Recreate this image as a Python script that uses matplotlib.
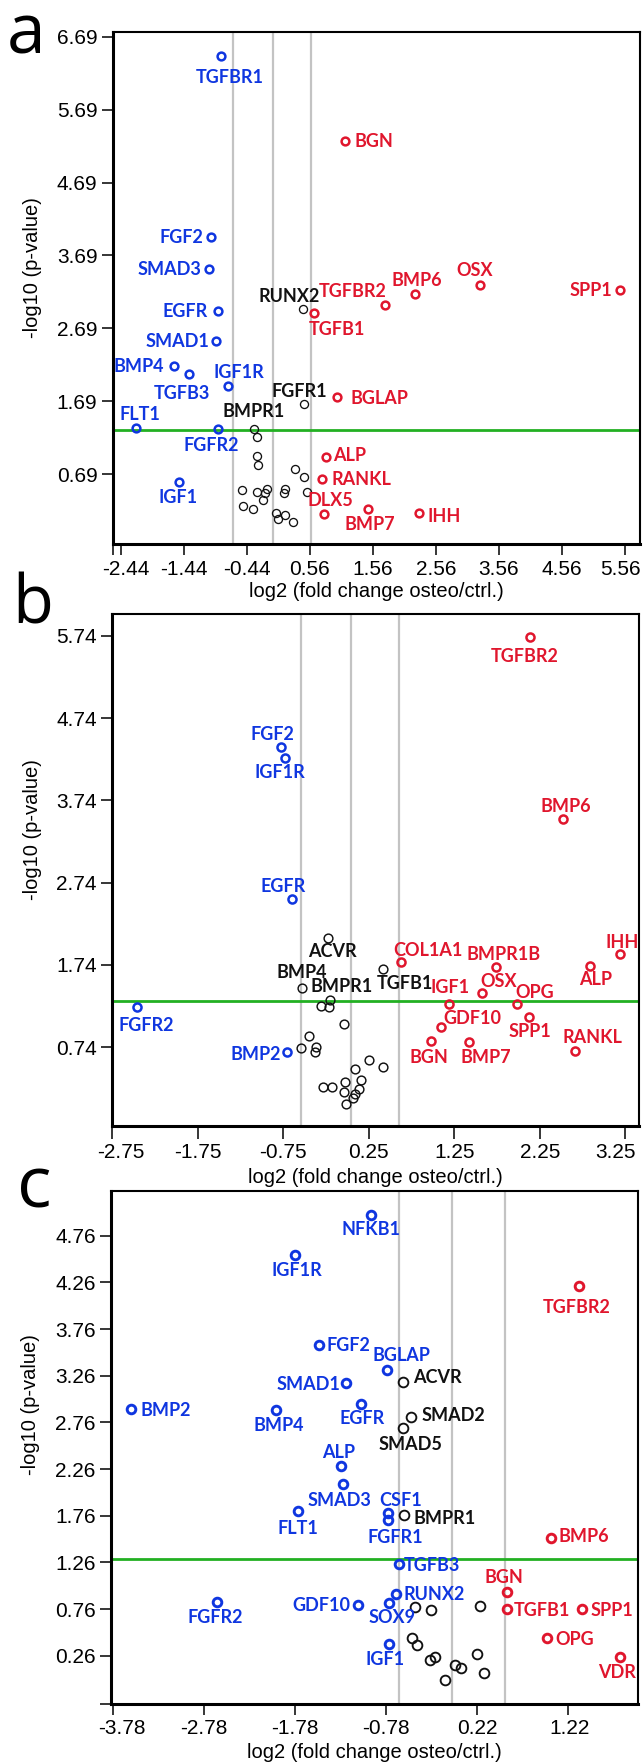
import matplotlib
matplotlib.use("Agg")
import matplotlib.pyplot as plt
from matplotlib.transforms import ScaledTranslation

plt.rcParams['font.family'] = ['Liberation Sans', 'DejaVu Sans']

# ---------------- DATA ----------------
# Panel a
A_GENES = ["TGFBR1", "BGN", "FGF2", "SMAD3", "OSX", "SPP1", "BMP6", "TGFBR2", "RUNX2", "TGFB1",
           "EGFR", "SMAD1", "BMP4", "TGFB3", "IGF1R", "FGFR1", "BGLAP", "FLT1", "FGFR2", "BMPR1",
           "ALP", "RANKL", "IGF1", "DLX5", "BMP7", "IHH"]
A_X = [-0.844, 1.113, -1.005, -1.036, 3.252, 5.473, 2.224, 1.746, 0.456, 0.632,
       -0.896, -0.922, -1.600, -1.352, -0.739, 0.470, 0.984, -2.195, -0.890, -0.328,
       0.821, 0.756, -1.509, 0.782, 1.487, 2.290]
A_Y = [6.43, 5.26, 3.95, 3.51, 3.28, 3.22, 3.16, 3.01, 2.96, 2.90,
       2.93, 2.52, 2.18, 2.06, 1.90, 1.65, 1.75, 1.33, 1.31, 1.31,
       0.93, 0.62, 0.59, 0.14, 0.21, 0.166]
A_GROUP = ["down", "up", "down", "down", "up", "up", "up", "up", "ns", "up",
           "down", "down", "down", "down", "down", "ns", "up", "down", "down", "ns",
           "up", "up", "down", "up", "up", "up"]
A_NS_X = [-0.282, -0.282, -0.256, 0.319, 0.462, -0.517, -0.276, -0.112, -0.145, 0.168,
          0.148, 0.521, -0.177, -0.504, -0.340, 0.018, 0.162, 0.051, 0.293]
A_NS_Y = [1.195, 0.94, 0.815, 0.756, 0.646, 0.47, 0.45, 0.495, 0.43, 0.495,
          0.44, 0.45, 0.335, 0.25, 0.215, 0.166, 0.13, 0.08, 0.033]
A_VLINES = [-0.652, -0.029, 0.584]
A_XTICKS = [-2.44, -1.44, -0.44, 0.56, 1.56, 2.56, 3.56, 4.56, 5.56]
A_XTICKLABELS = ["-2.44", "-1.44", "-0.44", "0.56", "1.56", "2.56", "3.56", "4.56", "5.56"]
A_YTICKS = [0.69, 1.69, 2.69, 3.69, 4.69, 5.69, 6.69]
A_YTICKLABELS = ["0.69", "1.69", "2.69", "3.69", "4.69", "5.69", "6.69"]

# Panel b
B_GENES = ["TGFBR2", "FGF2", "IGF1R", "BMP6", "EGFR", "ACVR", "COL1A1", "TGFB1", "BMPR1B", "ALP",
           "IHH", "BMP4", "OSX", "BMPR1", "FGFR2", "IGF1", "OPG", "SPP1", "GDF10", "BGN",
           "BMP7", "RANKL", "BMP2"]
B_X = [2.133, -0.774, -0.725, 2.518, -0.644, -0.221, 0.630, 0.418, 1.739, 2.833,
       3.188, -0.534, 1.577, -0.197, -2.457, 1.192, 1.985, 2.130, 1.092, 0.980,
       1.428, 2.659, -0.705]
B_Y = [5.72, 4.39, 4.26, 3.51, 2.54, 2.07, 1.78, 1.69, 1.72, 1.73,
       1.87, 1.457, 1.40, 1.315, 1.226, 1.27, 1.27, 1.11, 0.987, 0.817,
       0.80, 0.70, 0.68]
B_GROUP = ["up", "down", "down", "up", "down", "ns", "up", "ns", "up", "up",
           "up", "ns", "up", "ns", "down", "up", "up", "up", "up", "up",
           "up", "up", "down"]
B_NS_X = [-0.308, -0.212, -0.043, -0.442, -0.544, -0.370, -0.380, 0.255, 0.423, 0.091,
          0.162, -0.029, -0.283, -0.173, 0.139, -0.043, 0.086, 0.064, -0.014]
B_NS_Y = [1.246, 1.226, 1.02, 0.88, 0.735, 0.745, 0.68, 0.586, 0.505, 0.476,
          0.34, 0.315, 0.254, 0.26, 0.23, 0.193, 0.17, 0.12, 0.05]
B_VLINES = [-0.538, 0.039, 0.606]
B_XTICKS = [-2.75, -1.75, -0.75, 0.25, 1.25, 2.25, 3.25]
B_XTICKLABELS = ["-2.75", "-1.75", "-0.75", "0.25", "1.25", "2.25", "3.25"]
B_YTICKS = [0.74, 1.74, 2.74, 3.74, 4.74, 5.74]
B_YTICKLABELS = ["0.74", "1.74", "2.74", "3.74", "4.74", "5.74"]

# Panel c
C_GENES = ["NFKB1", "IGF1R", "TGFBR2", "FGF2", "BGLAP", "ACVR", "SMAD1", "EGFR", "BMP4", "SMAD2",
           "SMAD5", "ALP", "BMP2", "SMAD3", "FLT1", "CSF1", "FGFR1", "BMPR1", "BMP6", "TGFB3",
           "BGN", "RUNX2", "SOX9", "GDF10", "TGFB1", "SPP1", "OPG", "IGF1", "FGFR2", "VDR"]
C_X = [-0.94, -1.776, 1.34, -1.52, -0.767, -0.596, -1.218, -1.05, -1.984, -0.50,
       -0.591, -1.273, -3.58, -1.25, -1.74, -0.756, -0.756, -0.585, 1.036, -0.64,
       0.552, -0.668, -0.75, -1.09, 0.552, 1.377, 0.992, -0.75, -2.63, 1.79]
C_Y = [4.98, 4.555, 4.22, 3.594, 3.32, 3.193, 3.179, 2.957, 2.897, 2.823,
       2.704, 2.291, 2.90, 2.099, 1.811, 1.792, 1.718, 1.763, 1.519, 1.24,
       0.939, 0.917, 0.829, 0.807, 0.755, 0.755, 0.444, 0.39, 0.835, 0.25]
C_GROUP = ["down", "down", "up", "down", "down", "ns", "down", "down", "down", "ns",
           "ns", "down", "down", "down", "down", "down", "down", "ns", "up", "down",
           "up", "down", "down", "down", "up", "up", "up", "down", "down", "up"]
C_NS_X = [-0.456, -0.28, 0.259, -0.495, -0.44, -0.30, -0.236, -0.02, 0.048, -0.133, 0.22, 0.297]
C_NS_Y = [0.78, 0.75, 0.788, 0.444, 0.373, 0.214, 0.243, 0.161, 0.126, 0.001, 0.276, 0.073]
C_VLINES = [-0.64, -0.055, 0.53]
C_XTICKS = [-3.78, -2.78, -1.78, -0.78, 0.22, 1.22]
C_XTICKLABELS = ["-3.78", "-2.78", "-1.78", "-0.78", "0.22", "1.22"]
C_YTICKS = [0.26, 0.76, 1.26, 1.76, 2.26, 2.76, 3.26, 3.76, 4.26, 4.76]
C_YTICKLABELS = ["0.26", "0.76", "1.26", "1.76", "2.26", "2.76", "3.26", "3.76", "4.26", "4.76"]

P_THRESHOLD = 1.30
XLABEL = "log2 (fold change osteo/ctrl.)"
YLABEL = "-log10 (p-value)"

# ---------------- STYLE ----------------
COLORS = {"up": "#e0162d", "down": "#0f36e0", "ns": "#111111"}
GREEN = "#22b022"
GRAY = "#c3c3c3"
PT = 0.72          # points per pixel at dpi 100
CAP_HALF = 6.3     # px, half cap-height of gene labels

# label placement: gene -> (side, dx px, dy px downward)
A_POS = {
    "TGFBR1": ("c", 8, 21), "BGN": ("r", 10, 0), "FGF2": ("l", -8, 0), "SMAD3": ("l", -8, 0),
    "OSX": ("c", -5, -16), "SPP1": ("l", -7, 0), "BMP6": ("c", 2, -14), "TGFBR2": ("c", -32, -14),
    "RUNX2": ("c", -14, -13), "TGFB1": ("c", 23, 16), "EGFR": ("l", -10, 0), "SMAD1": ("l", -7, 0),
    "BMP4": ("l", -10, 0), "TGFB3": ("c", -7, 18), "IGF1R": ("c", 11, -14), "FGFR1": ("c", -5, -14),
    "BGLAP": ("r", 14, 1), "FLT1": ("c", 4, -14), "FGFR2": ("c", -7, 16), "BMPR1": ("c", 0, -18),
    "ALP": ("r", 7, -2), "RANKL": ("r", 9, -1), "IGF1": ("c", -1, 15), "DLX5": ("c", 7, -15),
    "BMP7": ("c", 2, 14), "IHH": ("r", 9, 3),
}
B_POS = {
    "TGFBR2": ("c", -5, 18), "FGF2": ("c", -9, -13), "IGF1R": ("c", -5, 14), "BMP6": ("c", 3, -14),
    "EGFR": ("c", -9, -13), "ACVR": ("c", 4, 13), "COL1A1": ("c", 27, -12), "TGFB1": ("c", 22, 14),
    "BMPR1B": ("c", 8, -13), "ALP": ("c", 6, 13), "IHH": ("c", 2, -13), "BMP4": ("c", 0, -17),
    "OSX": ("c", 17, -12), "BMPR1": ("c", 11, -14), "FGFR2": ("c", 9, 17), "IGF1": ("c", 1, -17),
    "OPG": ("c", 18, -12), "SPP1": ("c", 0, 14), "GDF10": ("c", 32, -9), "BGN": ("c", -2, 16),
    "BMP7": ("c", 16, 14), "RANKL": ("c", 18, -14), "BMP2": ("l", -6, 2),
}
C_POS = {
    "NFKB1": ("c", 0, 13), "IGF1R": ("c", 2, 15), "TGFBR2": ("c", -2, 21), "FGF2": ("r", 8, 0),
    "BGLAP": ("c", 14, -15), "ACVR": ("r", 10, -5), "SMAD1": ("l", -6, 0), "EGFR": ("c", 1, 14),
    "BMP4": ("c", 2, 15), "SMAD2": ("r", 10, -2), "SMAD5": ("c", 7, 16), "ALP": ("c", -2, -14),
    "BMP2": ("r", 9, 0), "SMAD3": ("c", -4, 16), "FLT1": ("c", -1, 17), "CSF1": ("c", 13, -13),
    "FGFR1": ("c", 7, 17), "BMPR1": ("r", 10, 2), "BMP6": ("r", 7, -2), "TGFB3": ("r", 5, 0),
    "BGN": ("c", -3, -16), "RUNX2": ("r", 7, -1), "SOX9": ("c", 3, 14), "GDF10": ("l", -7, 0),
    "TGFB1": ("r", 7, 0), "SPP1": ("r", 8, 0), "OPG": ("r", 8, 0), "IGF1": ("c", -4, 15),
    "FGFR2": ("c", -2, 15), "VDR": ("c", -3, 15),
}

fig = plt.figure(figsize=(6.43, 17.64), dpi=100)

panels = [
    dict(letter="a", rect=(112.7/643, 1-544.3/1764, 527.3/643, 512/1764),
         genes=A_GENES, x=A_X, y=A_Y, group=A_GROUP, nsx=A_NS_X, nsy=A_NS_Y, vlines=A_VLINES,
         xt=A_XTICKS, xtl=A_XTICKLABELS, yt=A_YTICKS, ytl=A_YTICKLABELS, pos=A_POS,
         xlim=(-2.568, 5.798), ylim=(-0.27, 6.75), ms=5.6, mew=1.8, nsms=5.8, nsmew=0.95,
         xlabel_y=-0.093, ylabel_y=0.541, letter_xy=(7, 53), letter_size=50, xtick_len=8,
         corner_x=True, corner_y=False, edge_shift=(5, -5)),
    dict(letter="b", rect=(112/643, 1-1126/1764, 527/643, 511.7/1764),
         genes=B_GENES, x=B_X, y=B_Y, group=B_GROUP, nsx=B_NS_X, nsy=B_NS_Y, vlines=B_VLINES,
         xt=B_XTICKS, xtl=B_XTICKLABELS, yt=B_YTICKS, ytl=B_YTICKLABELS, pos=B_POS,
         xlim=(-2.75, 3.41), ylim=(-0.217, 6.0), ms=5.8, mew=1.8, nsms=6.3, nsmew=1.05,
         xlabel_y=-0.1016, ylabel_y=0.58, letter_xy=(12, 623), letter_size=48, xtick_len=9,
         corner_x=False, corner_y=False, edge_shift=(9, -10)),
    dict(letter="c", rect=(111/643, 1-1704/1764, 527/643, 513/1764),
         genes=C_GENES, x=C_X, y=C_Y, group=C_GROUP, nsx=C_NS_X, nsy=C_NS_Y, vlines=C_VLINES,
         xt=C_XTICKS, xtl=C_XTICKLABELS, yt=C_YTICKS, ytl=C_YTICKLABELS, pos=C_POS,
         xlim=(-3.80, 1.99), ylim=(-0.258, 5.24), ms=6.2, mew=2.1, nsms=7.0, nsmew=1.35,
         xlabel_y=-0.0936, ylabel_y=0.583, letter_xy=(17, 1207), letter_size=52, xtick_len=8,
         corner_x=False, corner_y=True, edge_shift=(9, 2)),
]

SIDE = {"c": "center", "l": "right", "r": "left"}

for p in panels:
    ax = fig.add_axes(p["rect"])
    ax.set_xlim(*p["xlim"])
    ax.set_ylim(*p["ylim"])
    for v in p["vlines"]:
        ax.axvline(v, color=GRAY, lw=1.6, zorder=1)
    ax.axhline(P_THRESHOLD, color=GREEN, lw=2.0, zorder=2)

    # unlabeled non-significant points
    ax.plot(p["nsx"], p["nsy"], linestyle="none", marker="o", mfc="none",
            mec=COLORS["ns"], ms=p["nsms"], mew=p["nsmew"], zorder=3)
    # labeled points
    for g, x, y, grp in zip(p["genes"], p["x"], p["y"], p["group"]):
        c = COLORS[grp]
        if grp == "ns":
            ax.plot([x], [y], linestyle="none", marker="o", mfc="none", mec=c,
                    ms=p["nsms"], mew=p["nsmew"], zorder=4)
        else:
            ax.plot([x], [y], linestyle="none", marker="o", mfc="none", mec=c,
                    ms=p["ms"], mew=p["mew"], zorder=4)
        side, dx, dy = p["pos"][g]
        ax.annotate(g, (x, y), xytext=(dx * PT, -(dy + CAP_HALF) * PT),
                    textcoords="offset points", ha=SIDE[side], va="baseline",
                    color=c, fontsize=13, fontweight="bold", family=["Lato", "DejaVu Sans"],
                    zorder=5)

    ax.set_xticks(p["xt"])
    ax.set_xticklabels(p["xtl"])
    ax.set_yticks(p["yt"])
    ax.set_yticklabels(p["ytl"])
    if p["corner_x"]:
        ax.set_xticks([p["xlim"][0]], minor=True)
    if p["corner_y"]:
        ax.set_yticks([p["ylim"][0]], minor=True)
    ax.tick_params(axis="y", which="both", direction="out", length=8, width=1.1, labelsize=15, pad=3)
    ax.tick_params(axis="x", which="both", direction="out", length=p["xtick_len"], width=1.1,
                   labelsize=15, pad=3)
    for s in ["left", "bottom"]:
        ax.spines[s].set_linewidth(2.2)
    for s in ["top", "right"]:
        ax.spines[s].set_linewidth(1.5)

    # edge tick labels sit slightly inward, as in the original
    xlabels = ax.get_xticklabels()
    for lbl, sh in ((xlabels[0], p["edge_shift"][0]), (xlabels[-1], p["edge_shift"][1])):
        lbl.set_transform(lbl.get_transform() + ScaledTranslation(sh / 100, 0, fig.dpi_scale_trans))

    ax.set_xlabel(XLABEL, fontsize=14.5)
    ax.xaxis.label.set_va("center")
    ax.xaxis.set_label_coords(0.5, p["xlabel_y"])
    ax.set_ylabel(YLABEL, fontsize=14.5)
    ax.yaxis.label.set_va("center")
    ax.yaxis.set_label_coords((32 - 112) / 527, p["ylabel_y"])

    lx, ly = p["letter_xy"]
    fig.text(lx / 643, 1 - ly / 1764, p["letter"], fontsize=p["letter_size"],
             family=["Open Sans", "DejaVu Sans"], ha="left", va="baseline", color="black")

fig.savefig("out.png", dpi=100)
